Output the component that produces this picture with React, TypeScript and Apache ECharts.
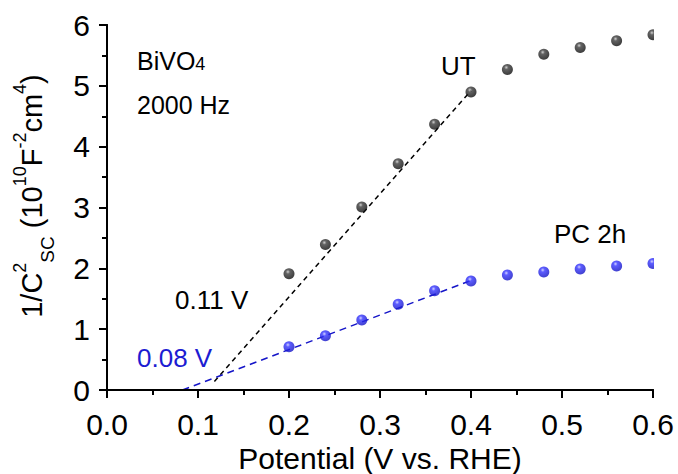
import React, { useEffect, useRef } from 'react';
import * as echarts from 'echarts';

const potentials = [0.2, 0.24, 0.28, 0.32, 0.36, 0.4, 0.44, 0.48, 0.52, 0.56, 0.6];
const utValues = [1.91, 2.39, 3.01, 3.72, 4.37, 4.9, 5.27, 5.52, 5.63, 5.74, 5.84];
const pcValues = [0.71, 0.89, 1.15, 1.41, 1.63, 1.79, 1.89, 1.94, 1.99, 2.04, 2.08];
const utFitX = [0.118, 0.4];
const utFitY = [0.14, 4.92];
const pcFitX = [0.083, 0.4];
const pcFitY = [0, 1.8];
const xTickLabels = ['0.0', '0.1', '0.2', '0.3', '0.4', '0.5', '0.6'];
const yTickLabels = ['0', '1', '2', '3', '4', '5', '6'];

const FONT = 'Liberation Sans, Arial, Helvetica, sans-serif';

const pairs = (xs: number[], ys: number[]) => xs.map((x, i) => [x, ys[i]]);

const sphere = (hi: string, mid: string, dark: string) => ({
  type: 'radial',
  x: 0.4,
  y: 0.32,
  r: 0.68,
  colorStops: [
    { offset: 0, color: hi },
    { offset: 0.28, color: mid },
    { offset: 1, color: dark },
  ],
});

export default function App() {
  const ref = useRef<HTMLDivElement>(null);
  useEffect(() => {
    if (!ref.current) return;
    const chart = echarts.init(ref.current, undefined, { renderer: 'svg' });
    const axisLine = { show: true, lineStyle: { color: '#000', width: 2 } };
    chart.setOption({
      animation: false,
      backgroundColor: '#fff',
      grid: {
        left: 107,
        right: 25,
        top: 25,
        bottom: 84,
        containLabel: false,
        outerBoundsMode: 'none',
        show: false,
      },
      xAxis: [
        {
          type: 'value',
          min: 0,
          max: 0.6,
          interval: 0.1,
          position: 'bottom',
          z: 10,
          axisLine,
          axisTick: { show: true, inside: false, length: 8, lineStyle: { color: '#000', width: 2 } },
          minorTick: { show: true, splitNumber: 2, length: 5, lineStyle: { color: '#000', width: 2 } },
          splitLine: { show: false },
          axisLabel: {
            margin: 19,
            fontSize: 30,
            fontFamily: FONT,
            color: '#000',
            formatter: (v: number) => xTickLabels[Math.round(v / 0.1)] ?? '',
          },
          name: 'Potential (V vs. RHE)',
          nameLocation: 'middle',
          nameGap: 48,
          nameTextStyle: { fontSize: 30, fontFamily: FONT, color: '#000' },
        },
        {
          type: 'value',
          min: 0,
          max: 0.6,
          position: 'top',
          z: 10,
          axisLine,
          axisTick: { show: false },
          axisLabel: { show: false },
          splitLine: { show: false },
        },
      ],
      yAxis: [
        {
          type: 'value',
          min: 0,
          max: 6,
          interval: 1,
          position: 'left',
          z: 10,
          axisLine,
          axisTick: { show: true, inside: false, length: 8, lineStyle: { color: '#000', width: 2 } },
          minorTick: { show: true, splitNumber: 2, length: 5, lineStyle: { color: '#000', width: 2 } },
          splitLine: { show: false },
          axisLabel: {
            margin: 17,
            fontSize: 30,
            fontFamily: FONT,
            color: '#000',
            formatter: (v: number) => yTickLabels[Math.round(v)] ?? '',
          },
        },
        {
          type: 'value',
          min: 0,
          max: 6,
          position: 'right',
          z: 10,
          axisLine,
          axisTick: { show: false },
          axisLabel: { show: false },
          splitLine: { show: false },
        },
      ],
      series: [
        {
          type: 'line',
          data: pairs(utFitX, utFitY),
          showSymbol: false,
          symbol: 'none',
          lineStyle: { color: '#000', width: 1.5, type: [5, 4] },
          z: 3,
        },
        {
          type: 'line',
          data: pairs(pcFitX, pcFitY),
          showSymbol: false,
          symbol: 'none',
          lineStyle: { color: '#1515c8', width: 1.5, type: [7, 5] },
          z: 3,
        },
        {
          type: 'scatter',
          data: pairs(potentials, utValues),
          symbol: 'circle',
          symbolSize: 11,
          clip: false,
          itemStyle: { color: sphere('#c4c4c4', '#3c3c3c', '#0c0c0c') },
          z: 4,
        },
        {
          type: 'scatter',
          data: pairs(potentials, pcValues),
          symbol: 'circle',
          symbolSize: 11,
          clip: false,
          itemStyle: { color: sphere('#c8c8ff', '#3434ff', '#1212c4') },
          z: 4,
        },
      ],
      graphic: [
        {
          type: 'rect',
          z: 8,
          shape: { x: 654, y: 15, width: 24, height: 378 },
          style: { fill: '#fff' },
          silent: true,
        },
        {
          type: 'text',
          z: 20,
          x: 137,
          y: 61,
          style: {
            text: '{a|BiVO}{b|4}',
            textAlign: 'left',
            textVerticalAlign: 'middle',
            fill: '#000',
            rich: {
              a: { fontSize: 25, fontFamily: FONT, fill: '#000', color: '#000' },
              b: { fontSize: 18, fontFamily: FONT, fill: '#000', color: '#000', padding: [5, 0, 0, 0] },
            },
          },
        },
        {
          type: 'text',
          z: 20,
          x: 137,
          y: 105,
          style: {
            text: '2000 Hz',
            font: `25px ${FONT}`,
            textAlign: 'left',
            textVerticalAlign: 'middle',
            fill: '#000',
          },
        },
        {
          type: 'text',
          z: 20,
          x: 441,
          y: 66,
          style: {
            text: 'UT',
            font: `26px ${FONT}`,
            textAlign: 'left',
            textVerticalAlign: 'middle',
            fill: '#000',
          },
        },
        {
          type: 'text',
          z: 20,
          x: 554,
          y: 234,
          style: {
            text: 'PC 2h',
            font: `26px ${FONT}`,
            textAlign: 'left',
            textVerticalAlign: 'middle',
            fill: '#000',
          },
        },
        {
          type: 'text',
          z: 20,
          x: 175,
          y: 300,
          style: {
            text: '0.11 V',
            font: `26px ${FONT}`,
            textAlign: 'left',
            textVerticalAlign: 'middle',
            fill: '#000',
          },
        },
        {
          type: 'text',
          z: 20,
          x: 137,
          y: 358,
          style: {
            text: '0.08 V',
            font: `26px ${FONT}`,
            textAlign: 'left',
            textVerticalAlign: 'middle',
            fill: '#1c1cd2',
          },
        },
        {
          type: 'text',
          z: 20,
          x: 32,
          y: 196,
          rotation: Math.PI / 2,
          style: {
            text: '{n|1/C}{sup|2}{sub|SC}{n| (10}{sup|10}{n|F}{sup|-2}{n|cm}{sup|4}{n|)}',
            textAlign: 'center',
            textVerticalAlign: 'middle',
            fill: '#000',
            rich: {
              n: { fontSize: 29, fontFamily: FONT, fill: '#000', color: '#000' },
              sup: { fontSize: 18, fontFamily: FONT, fill: '#000', color: '#000', padding: [0, 0, 25, 0] },
              sub: { fontSize: 19, fontFamily: FONT, fill: '#000', color: '#000', padding: [31, 0, 0, 0] },
            },
          },
        },
      ],
    });
    return () => chart.dispose();
  }, []);
  return (
    <div
      ref={ref}
      style={{ position: 'fixed', left: 0, top: 0, width: 678, height: 474, background: '#fff' }}
    />
  );
}
